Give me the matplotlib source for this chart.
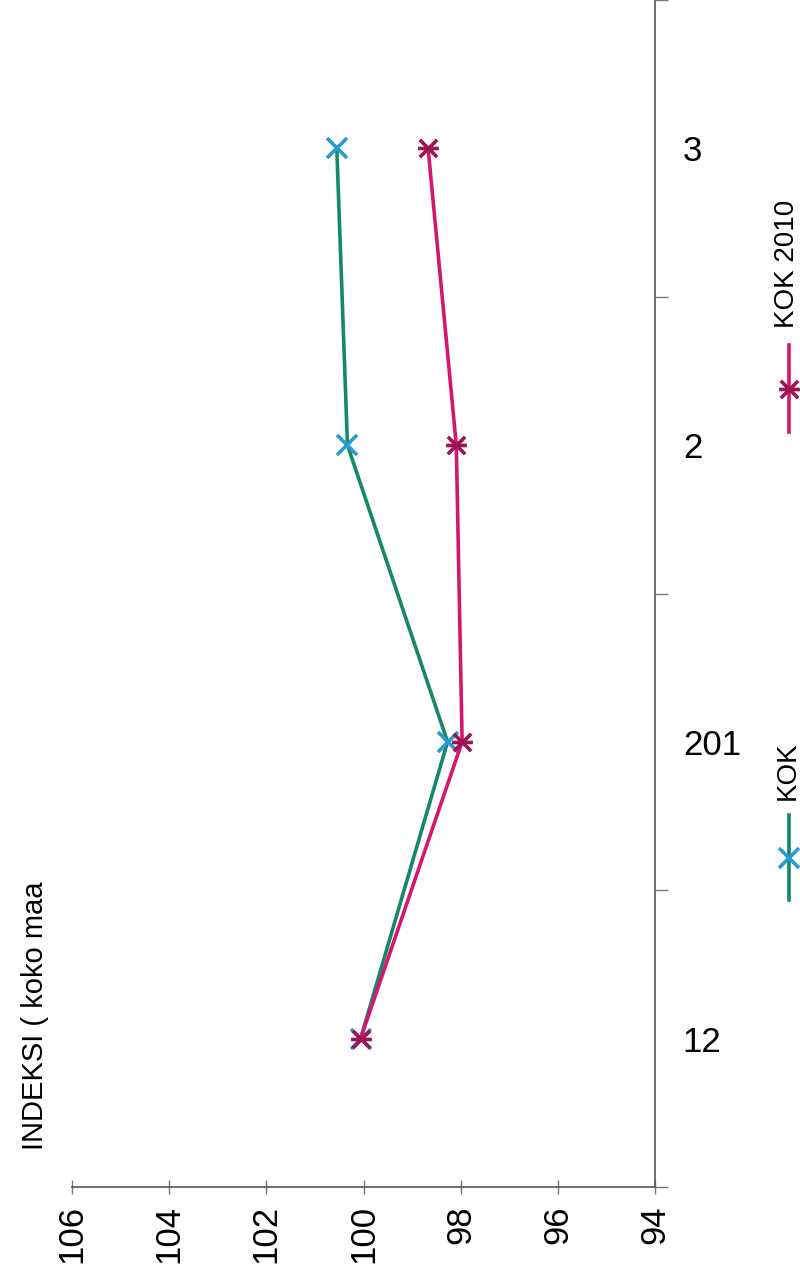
import matplotlib
matplotlib.use("Agg")
import matplotlib.pyplot as plt
from matplotlib.path import Path
from matplotlib.lines import Line2D

plt.rcParams['font.family'] = ['Liberation Sans', 'DejaVu Sans']

categories = ["12", "201", "2", "3"]
kok = [100.06, 98.27, 100.33, 100.55]
kok2010 = [100.06, 97.97, 98.09, 98.67]
series_names = ["KOK", "KOK 2010"]
value_ticks = [106, 104, 102, 100, 98, 96, 94]
axis_title = "INDEKSI ( koko maa"

green_line = "#15876a"
blue_marker = "#2a9bd0"
pink_line = "#d3176f"
plum_marker = "#9c1552"

# asterisk rotated (X with horizontal bar)
star_path = Path(
    [(-1, -1), (1, 1), (-1, 1), (1, -1), (-1.2, 0), (1.2, 0)],
    [Path.MOVETO, Path.LINETO, Path.MOVETO, Path.LINETO, Path.MOVETO, Path.LINETO],
)

W, H = 800, 1272
fig = plt.figure(figsize=(W / 100, H / 100), dpi=100)
fig.patch.set_facecolor("white")

ax_left, ax_right = 72, 655
ax_top, ax_bottom = 0, 1187
ax = fig.add_axes([ax_left / W, 1 - ax_bottom / H, (ax_right - ax_left) / W, (ax_bottom - ax_top) / H])

ypos = list(range(len(categories)))
ax.plot(kok, ypos, color=green_line, lw=2.6, marker="x", markersize=15,
        markeredgecolor=blue_marker, markeredgewidth=2.6, zorder=3)
ax.plot(kok2010, ypos, color=pink_line, lw=2.6, marker=star_path, markersize=15,
        markeredgecolor=plum_marker, markerfacecolor="none", markeredgewidth=2.6, zorder=4)

ax.set_xlim(106, 94)
ax.set_ylim(-0.5, len(categories) - 0.5)

for s in ["left", "top"]:
    ax.spines[s].set_visible(False)
for s in ["right", "bottom"]:
    ax.spines[s].set_color("#555555")
    ax.spines[s].set_linewidth(1.2)

ax.set_xticks(value_ticks)
ax.set_xticklabels([str(v) for v in value_ticks], rotation=90, fontsize=25)
ax.tick_params(axis="x", direction="inout", length=10, width=1, color="#777777", pad=8)

ax.yaxis.tick_right()
ax.set_yticks([i + 0.5 for i in range(-1, len(categories))])
ax.set_yticklabels([])
ax.tick_params(axis="y", direction="out", length=9, width=1, color="#777777")
ax.set_yticks(ypos, minor=True)
ax.set_yticklabels(categories, minor=True, fontsize=25)
ax.tick_params(axis="y", which="minor", length=0, pad=20)
for lab in ax.get_yticklabels(minor=True):
    lab.set_horizontalalignment("left")

# axis title
fig.text(35 / W, 1 - 1150 / H, axis_title, rotation=90, fontsize=21,
         ha="center", va="bottom")

# manual rotated legend
def legend_entry(x, y_line_bottom, y_line_top, y_text_bottom, label, lc, mk, mc, fill):
    xs = [x / W, x / W]
    ys = [1 - y_line_bottom / H, 1 - y_line_top / H]
    fig.add_artist(Line2D(xs, ys, color=lc, lw=2.6, transform=fig.transFigure))
    ymid = 1 - (y_line_bottom + y_line_top) / 2 / H
    fig.add_artist(Line2D([x / W], [ymid], marker=mk, markersize=15, markeredgecolor=mc,
                          markerfacecolor=fill, markeredgewidth=2.6, linestyle="none",
                          transform=fig.transFigure))
    fig.text(x / W - 0.002, 1 - y_text_bottom / H, label, rotation=90, fontsize=20,
             ha="center", va="bottom")

legend_entry(789, 900, 815, 800, series_names[0], green_line, "x", blue_marker, "none")
legend_entry(789, 432, 345, 328, series_names[1], pink_line, star_path, plum_marker, "none")

fig.savefig("out.png", dpi=100, facecolor="white")
